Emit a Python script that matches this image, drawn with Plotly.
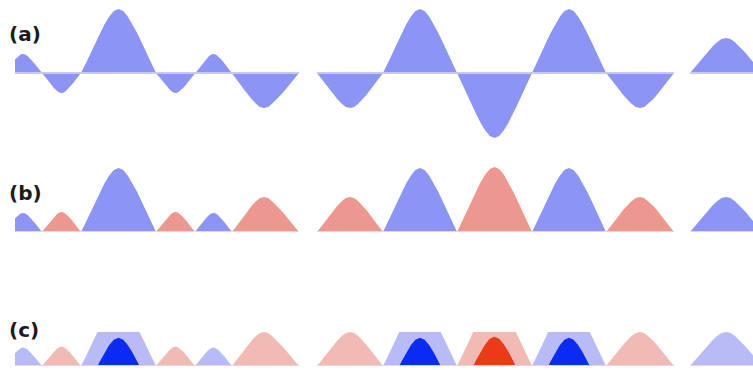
import plotly.graph_objects as go

# Sampled record: time stamps and signed values; None marks a break in the record
t = [15, 15.9, 18.3, 20.6, 23, 25.4, 27.8, 30.1, 32.5, 34.9, 37.3, 39.6, 42,
     44.4, 46.9, 49.3, 51.8, 54.2, 56.6, 59.1, 61.5, 63.9, 66.4, 68.8, 71.3, 73.7, 76.1, 78.6, 81,
     85.7, 90.4, 95.1, 99.8, 104.4, 109.1, 113.8, 118.5, 123.2, 127.9, 132.6, 137.3, 141.9, 146.6, 151.3, 156,
     158.4, 160.9, 163.3, 165.8, 168.2, 170.6, 173.1, 175.5, 177.9, 180.4, 182.8, 185.3, 187.7, 190.1, 192.6, 195,
     197.3, 199.6, 201.9, 204.3, 206.6, 208.9, 211.2, 213.5, 215.8, 218.1, 220.4, 222.8, 225.1, 227.4, 229.7, 232,
     236, 240, 244, 248, 252, 256, 260, 264, 268, 272, 276.5, 281, 285.5, 290, 294.5, 299,
     308,
     317, 321.1, 325.3, 329.4, 333.5, 337.6, 341.8, 345.9, 350, 354.1, 358.3, 362.4, 366.5, 370.6, 374.8, 378.9, 383,
     387.6, 392.3, 396.9, 401.5, 406.1, 410.8, 415.4, 420, 424.6, 429.3, 433.9, 438.5, 443.1, 447.8, 452.4, 457,
     461.7, 466.4, 471.1, 475.8, 480.4, 485.1, 489.8, 494.5, 499.2, 503.9, 508.6, 513.3, 517.9, 522.6, 527.3, 532,
     536.6, 541.3, 545.9, 550.5, 555.1, 559.8, 564.4, 569, 573.6, 578.3, 582.9, 587.5, 592.1, 596.8, 601.4, 606,
     610.3, 614.5, 618.8, 623, 627.3, 631.5, 635.8, 640, 644.3, 648.5, 652.8, 657, 661.3, 665.5, 669.8, 674,
     682,
     690, 694.5, 699, 703.5, 708, 712.5, 717, 721.5, 726, 730.5, 735, 739.5, 744, 748.5, 753, 757.5, 762]

v = [13.5, 14.4, 16.7, 18.4, 19, 18.4, 16.7, 14.4, 11.8, 8.9, 5.9, 2.9, 0,
     -3, -6.2, -9.4, -12.4, -15.2, -17.6, -19.4, -20, -19.4, -17.6, -15.2, -12.4, -9.4, -6.2, -3, 0,
     9.6, 19.8, 30.1, 39.7, 48.6, 56.3, 62.1, 64, 62.1, 56.3, 48.6, 39.7, 30.1, 19.8, 9.6, 0,
     -3, -6.2, -9.4, -12.4, -15.2, -17.6, -19.4, -20, -19.4, -17.6, -15.2, -12.4, -9.4, -6.2, -3, 0,
     2.9, 5.9, 8.9, 11.8, 14.4, 16.7, 18.4, 19, 18.4, 16.7, 14.4, 11.8, 8.9, 5.9, 2.9, 0,
     -5.3, -10.9, -16.5, -21.7, -26.6, -30.8, -34, -35, -34, -30.8, -26.6, -21.7, -16.5, -10.9, -5.3, 0,
     None,
     0, -5.3, -10.9, -16.5, -21.7, -26.6, -30.8, -34, -35, -34, -30.8, -26.6, -21.7, -16.5, -10.9, -5.3, 0,
     9.6, 19.8, 30.1, 39.7, 48.6, 56.3, 62.1, 64, 62.1, 56.3, 48.6, 39.7, 30.1, 19.8, 9.6, 0,
     -9.8, -20.2, -30.6, -40.3, -49.4, -57.2, -63.1, -65, -63.1, -57.2, -49.4, -40.3, -30.6, -20.2, -9.8, 0,
     9.6, 19.8, 30.1, 39.7, 48.6, 56.3, 62.1, 64, 62.1, 56.3, 48.6, 39.7, 30.1, 19.8, 9.6, 0,
     -5.3, -10.9, -16.5, -21.7, -26.6, -30.8, -34, -35, -34, -30.8, -26.6, -21.7, -16.5, -10.9, -5.3, 0,
     None,
     0, 5.3, 10.9, 16.5, 21.7, 26.6, 30.8, 34, 35, 34, 30.8, 26.6, 21.7, 16.5, 10.9, 5.3, 0]

band = 35          # horizon band height
panel_labels = ["(a)", "(b)", "(c)"]

BLUE = "#8c94f5"
SALMON = "#ec9891"
LIGHT_BLUE = "#b8bbf6"
LIGHT_PINK = "#f1bab5"
DARK_BLUE = "#0a2cf2"
RED = "#ea3a16"
BASE_A = "#c5c8f8"
BASE_B = "#ead3da"

# split the record into its continuous pieces
segments = []
cur_t, cur_v = [], []
for ti, vi in zip(t, v):
    if vi is None:
        if cur_t:
            segments.append((cur_t, cur_v))
        cur_t, cur_v = [], []
    else:
        cur_t.append(ti)
        cur_v.append(vi)
if cur_t:
    segments.append((cur_t, cur_v))


def slice_band(x, y, lo, hi):
    """Part of the curve lying between lo and hi, shifted down to start at 0.
    Crossing points are added so band edges fall exactly on the thresholds."""
    xs, ys = [], []
    for i in range(len(x)):
        xs.append(x[i])
        ys.append(y[i])
        if i + 1 < len(x):
            x0, y0, x1, y1 = x[i], y[i], x[i + 1], y[i + 1]
            cuts = []
            for c in (lo, hi):
                if (y0 - c) * (y1 - c) < 0:
                    cuts.append(x0 + (c - y0) / (y1 - y0) * (x1 - x0))
            for xc in sorted(cuts):
                xs.append(xc)
                ys.append(y0 + (y1 - y0) * (xc - x0) / (x1 - x0))
    return xs, [min(max(val - lo, 0), hi - lo) for val in ys]


fig = go.Figure()


def area(x, y, color, axis):
    fig.add_trace(go.Scatter(
        x=x, y=y, mode="lines", line=dict(width=0, color=color),
        fill="tozeroy", fillcolor=color, xaxis="x", yaxis=axis,
        hoverinfo="skip", showlegend=False))


def baseline(x, color, axis):
    fig.add_trace(go.Scatter(
        x=[x[0], x[-1]], y=[0, 0], mode="lines", line=dict(width=2, color=color),
        xaxis="x", yaxis=axis, hoverinfo="skip", showlegend=False))


BIG = 1e9
for seg_t, seg_v in segments:
    neg_v = [-a for a in seg_v]

    # (a) plain area chart around the zero line
    area(seg_t, seg_v, BLUE, "y")
    baseline(seg_t, BASE_A, "y")

    # (b) negative values mirrored upward and coloured red
    area(*slice_band(seg_t, seg_v, 0, BIG), BLUE, "y2")
    area(*slice_band(seg_t, neg_v, 0, BIG), SALMON, "y2")
    baseline(seg_t, BASE_B, "y2")

    # (c) two-band horizon: lower band light, overflow band dark
    area(*slice_band(seg_t, seg_v, 0, band), LIGHT_BLUE, "y3")
    area(*slice_band(seg_t, neg_v, 0, band), LIGHT_PINK, "y3")
    area(*slice_band(seg_t, seg_v, band, 2 * band), DARK_BLUE, "y3")
    area(*slice_band(seg_t, neg_v, band, 2 * band), RED, "y3")
    baseline(seg_t, BASE_B, "y3")

H = 370.0
W = 753.0


def dom(top_px, bottom_px):
    return [1 - bottom_px / H, 1 - top_px / H]


hidden = dict(visible=False, showgrid=False, zeroline=False, fixedrange=True)

fig.update_layout(
    width=753, height=370,
    margin=dict(l=0, r=0, t=0, b=0),
    paper_bgcolor="white", plot_bgcolor="white",
    xaxis=dict(domain=[15 / W, 1], range=[15, 753], **hidden),
    yaxis=dict(domain=dom(8, 138), range=[-65, 65], **hidden),
    yaxis2=dict(domain=dom(167, 232), range=[0, 65], **hidden),
    yaxis3=dict(domain=dom(332, 366), range=[0, band], **hidden),
)

for label, ypx in zip(panel_labels, [34, 193, 330]):
    fig.add_annotation(
        text=label, xref="paper", yref="paper", x=7 / W, y=1 - ypx / H,
        xanchor="left", yanchor="middle", showarrow=False,
        font=dict(family="DejaVu Sans, sans-serif", size=20, color="#1c1c1c", weight="bold"))

fig.write_html("out.html")
